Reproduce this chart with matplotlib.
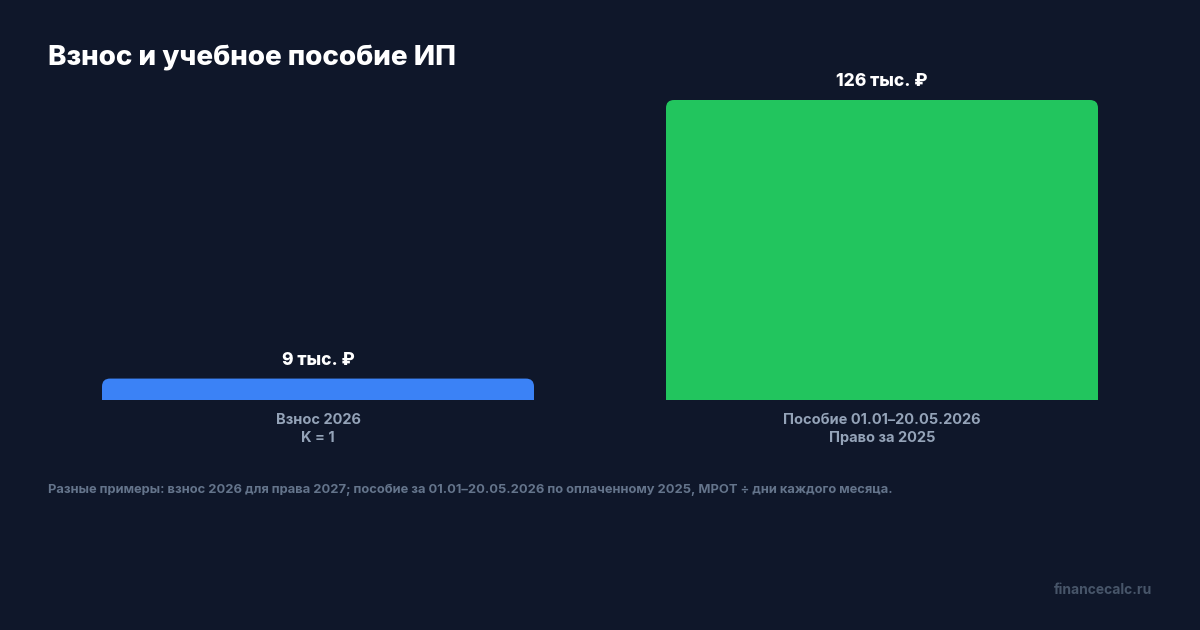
import matplotlib
matplotlib.use("Agg")
import matplotlib.pyplot as plt
from matplotlib.patches import FancyBboxPatch, Rectangle

plt.rcParams['font.family'] = ['Inter', 'DejaVu Sans']

# data
categories = ["Взнос 2026\nK = 1", "Пособие 01.01–20.05.2026\nПраво за 2025"]
values = [9, 126]  # тыс. руб.
value_labels = ["9 тыс. ₽", "126 тыс. ₽"]
colors = ["#3b82f6", "#22c55e"]

title = "Взнос и учебное пособие ИП"
note = ("Разные примеры: взнос 2026 для права 2027; пособие за 01.01–20.05.2026 "
        "по оплаченному 2025, МРОТ ÷ дни каждого месяца.")
site = "financecalc.ru"

bg = "#0f172a"
W, H = 1200, 630
fig = plt.figure(figsize=(W / 100, H / 100), dpi=100, facecolor=bg)

# axes: x from 36 to 1164 px, y from 100 to 400 px
ax = fig.add_axes([36 / W, 1 - 400 / H, 1128 / W, 300 / H])
ax.set_facecolor(bg)
ax.set_xlim(-0.5, 1.5)
ax.set_ylim(0, max(values))
ax.axis("off")

bw = 432 / 564
px_x = 1 / 564            # x data units per px
px_y = max(values) / 300  # y data units per px
rad = 8
for i, (v, c) in enumerate(zip(values, colors)):
    x0 = i - bw / 2
    ax.add_patch(FancyBboxPatch((x0, 0), bw, v,
                                boxstyle=f"round,pad=0,rounding_size={rad * px_x}",
                                mutation_aspect=px_y / px_x,
                                fc=c, ec="none", clip_on=False))
    ax.add_patch(Rectangle((x0, 0), bw, v / 2, fc=c, ec="none", clip_on=False))
    ax.text(i, v + 18 * px_y, value_labels[i], ha="center", va="center",
            color="white", fontsize=12.5, fontweight="heavy")
    ax.text(i, -13 * px_y, categories[i], ha="center", va="top",
            color="#94a3b8", fontsize=10.5, fontweight="bold", linespacing=1.4)

fig.text(48 / W, 1 - 58 / H, title, ha="left", va="center",
         color="white", fontsize=20, fontweight="heavy")
fig.text(48 / W, 1 - 490 / H, note, ha="left", va="center",
         color="#64748b", fontsize=9.3, fontweight="bold")
fig.text(1152 / W, 1 - 590 / H, site, ha="right", va="center",
         color="#475569", fontsize=10, fontweight="bold")

fig.savefig("out.png", dpi=100, facecolor=bg)
